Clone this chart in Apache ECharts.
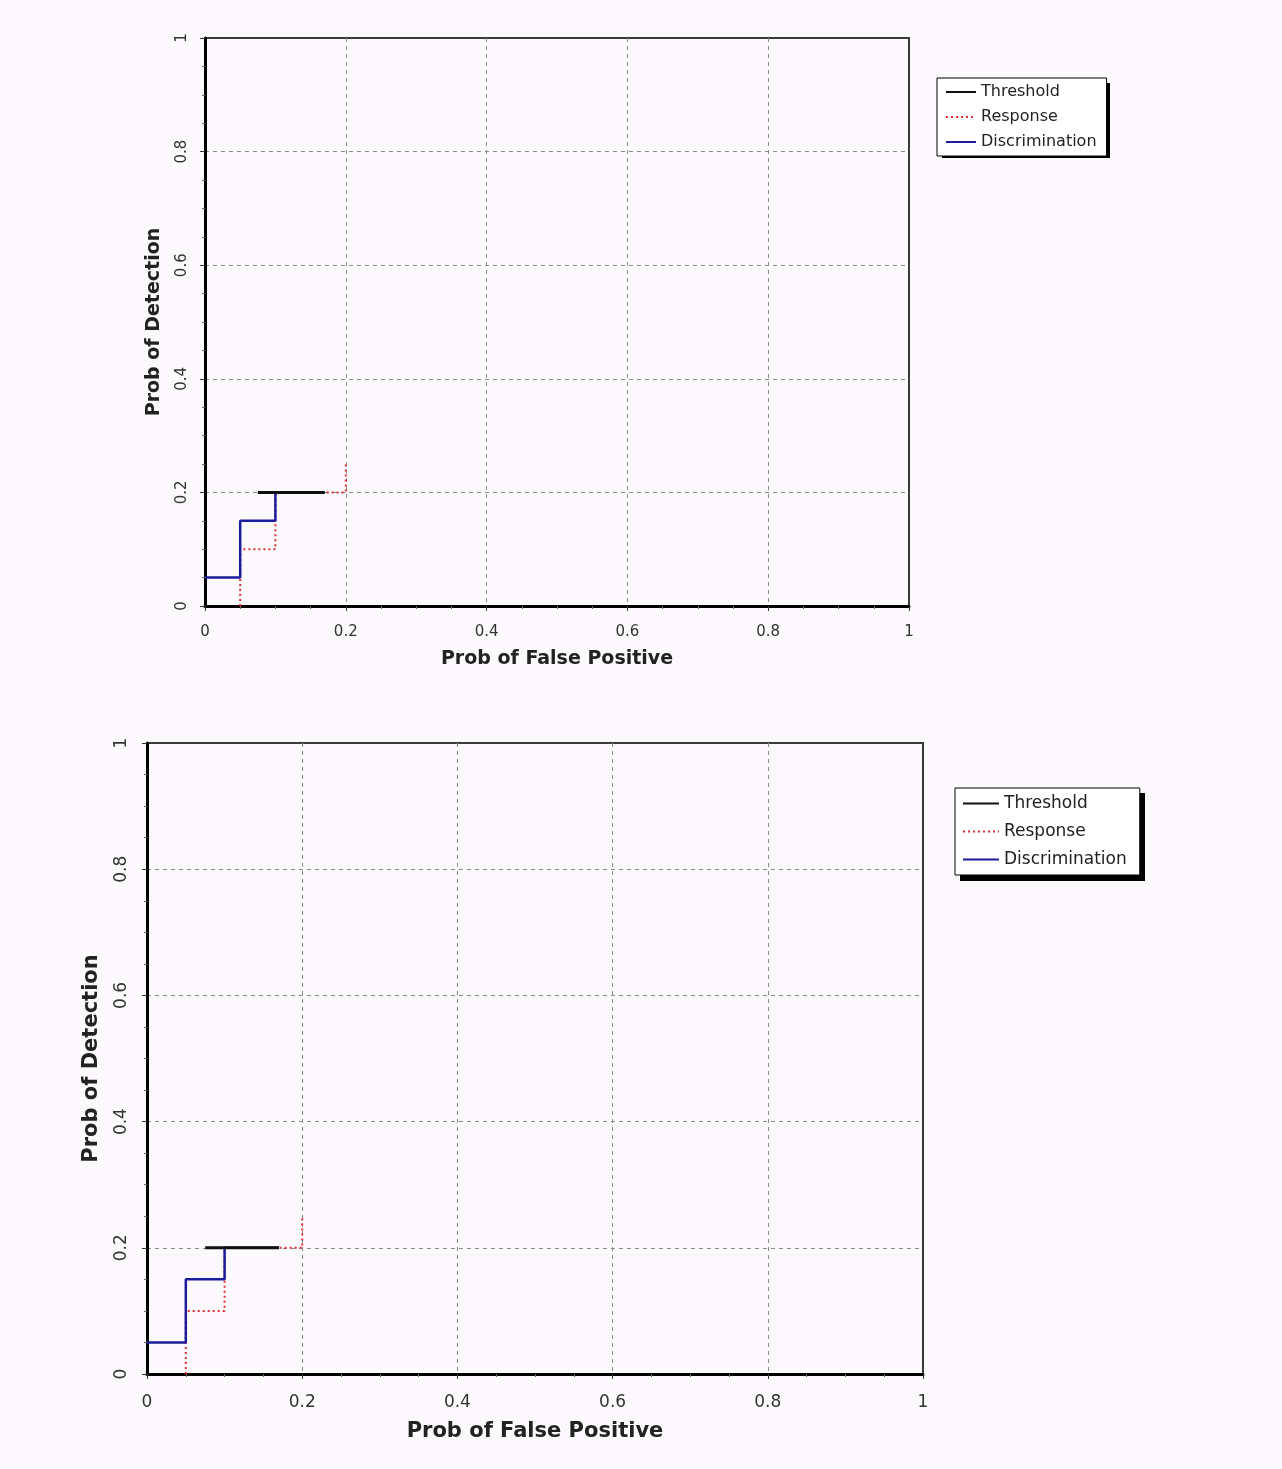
<!DOCTYPE html>
<html>
<head>
<meta charset="utf-8">
<script src="https://cdn.jsdelivr.net/npm/echarts@6/dist/echarts.min.js"></script>
<style>
  html, body { margin: 0; padding: 0; background: #fcf9fd; }
  #chart { width: 1282px; height: 1469px; }
</style>
</head>
<body>
<div id="chart"></div>
<script>
// ROC-style step curves, same data in both panels
const seriesNames = ['Threshold', 'Response', 'Discrimination'];
const thresholdPts = [[0.075, 0.2], [0.17, 0.2]];
const responsePts = [[0.05, 0], [0.05, 0.1], [0.1, 0.1], [0.1, 0.2], [0.2, 0.2], [0.2, 0.25]];
const discriminationPts = [[0, 0.05], [0.05, 0.05], [0.05, 0.15], [0.1, 0.15], [0.1, 0.2], [0.17, 0.2]];
const tickValues = [0, 0.2, 0.4, 0.6, 0.8, 1];

const FONT = 'DejaVu Sans';

// per-panel layout (top panel smaller than bottom one)
const panels = [
  { grid: { left: 205, top: 38, width: 704, height: 568 }, tick: 15, name: 19, legendFont: 16,
    xLabelMargin: 19, yLabelMargin: 15, xNameGap: 44, yNameGap: 41,
    legend: { left: 937, top: 78, padding: [6, 10, 6, 8], itemGap: 9, itemHeight: 14, itemWidth: 30 },
    shadow: { x: 942, y: 83, width: 168, height: 75 } },
  { grid: { left: 147, top: 743, width: 776, height: 631 }, tick: 17, name: 21, legendFont: 17,
    xLabelMargin: 20, yLabelMargin: 17, xNameGap: 47, yNameGap: 45,
    legend: { left: 955, top: 788, padding: [7, 13, 7, 7], itemGap: 11, itemHeight: 16, itemWidth: 36 },
    shadow: { x: 960, y: 793, width: 185, height: 88 } },
];

const fmt = v => (tickValues.includes(+v.toFixed(2)) ? String(+v.toFixed(1)) : '');

const option = {
  backgroundColor: '#fcf9fd',
  animation: false,
  // drop shadows behind the legend boxes
  graphic: panels.map(p => ({
    type: 'rect', z: 1, shape: p.shadow, style: { fill: '#000' },
  })),
  grid: panels.map(p => Object.assign({ show: true, borderColor: '#3a3a3a', borderWidth: 2, backgroundColor: 'transparent' }, p.grid)),
  legend: panels.map(p => Object.assign({
    orient: 'vertical', data: seriesNames, z: 5,
    backgroundColor: '#ffffff', borderColor: '#000', borderWidth: 1,
    itemStyle: { opacity: 0 },
    textStyle: { fontFamily: FONT, fontSize: p.legendFont, color: '#222' },
    selectedMode: false,
  }, p.legend)),
  xAxis: panels.map((p, i) => ({
    type: 'value', gridIndex: i, min: 0, max: 1, interval: 0.2,
    name: 'Prob of False Positive', nameLocation: 'middle', nameGap: p.xNameGap,
    nameTextStyle: { fontFamily: FONT, fontSize: p.name, fontWeight: 'bold', color: '#222' },
    axisLine: { lineStyle: { color: '#000', width: 3 } },
    axisTick: { show: true, length: 5, lineStyle: { color: '#333' } },
    minorTick: { show: true, splitNumber: 4, length: 3, lineStyle: { color: '#666' } },
    axisLabel: { margin: p.xLabelMargin, fontFamily: FONT, fontSize: p.tick, color: '#333', formatter: fmt },
    splitLine: { show: true, showMinLine: false, showMaxLine: false, lineStyle: { color: '#8a8a8a', type: [4, 4], width: 1 } },
  })),
  yAxis: panels.map((p, i) => ({
    type: 'value', gridIndex: i, min: 0, max: 1, interval: 0.2,
    name: 'Prob of Detection', nameLocation: 'middle', nameGap: p.yNameGap,
    nameTextStyle: { fontFamily: FONT, fontSize: p.name, fontWeight: 'bold', color: '#222' },
    axisLine: { show: true, lineStyle: { color: '#000', width: 3 } },
    axisTick: { show: true, length: 5, lineStyle: { color: '#333' } },
    minorTick: { show: true, splitNumber: 4, length: 3, lineStyle: { color: '#666' } },
    axisLabel: { margin: p.yLabelMargin, rotate: 90, fontFamily: FONT, fontSize: p.tick, color: '#333', formatter: fmt },
    splitLine: { show: true, showMinLine: false, showMaxLine: false, lineStyle: { color: '#8a8a8a', type: [4, 4], width: 1 } },
  })),
  series: [],
};

panels.forEach((p, i) => {
  option.series.push(
    {
      name: 'Response', type: 'line', xAxisIndex: i, yAxisIndex: i, data: responsePts,
      showSymbol: false, symbol: 'none', z: 3,
      lineStyle: { color: '#e03030', width: 2, type: [2, 3] },
      itemStyle: { color: '#e03030' },
    },
    {
      name: 'Discrimination', type: 'line', xAxisIndex: i, yAxisIndex: i, data: discriminationPts,
      showSymbol: false, symbol: 'none', z: 4,
      lineStyle: { color: '#1c1c9c', width: 2.5 },
      itemStyle: { color: '#6f6fd0' },
    },
    {
      name: 'Threshold', type: 'line', xAxisIndex: i, yAxisIndex: i, data: thresholdPts,
      showSymbol: false, symbol: 'none', z: 5,
      lineStyle: { color: '#111', width: 3 },
      itemStyle: { color: '#111' },
    }
  );
});

const chart = echarts.init(document.getElementById('chart'), null, { renderer: 'canvas' });
chart.setOption(option);
</script>
</body>
</html>
